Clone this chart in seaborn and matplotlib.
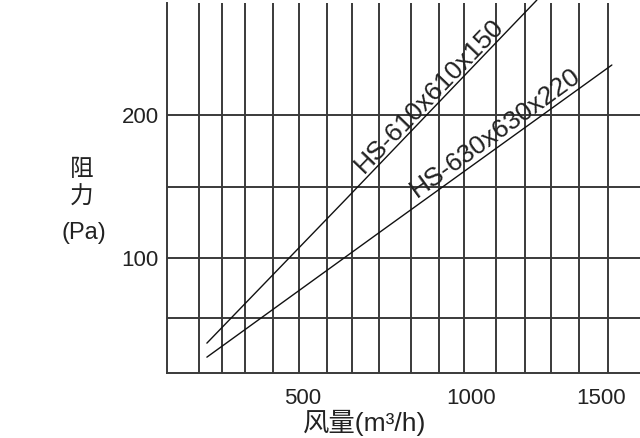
"""Resistance vs air flow for two HS filter sizes."""

import numpy as np
import pandas as pd
import matplotlib
matplotlib.use('Agg')
import matplotlib.pyplot as plt
import seaborn as sns

# air flow (m3/h) and resistance (Pa)
models = ['HS-610x610x150', 'HS-630x630x220']
flow_610 = [292, 609, 1240]
pa_610 = [40.6, 140.6, 280.4]
flow_630 = [292, 707, 1547]
pa_630 = [30.8, 118.2, 235.0]

x_ticks = [500, 1000, 1500]
y_ticks = [100, 200]
x_grid = [277, 321, 368, 429, 490, 561, 628, 704, 801, 890, 974, 1087, 1194, 1295, 1408, 1530]
y_grid = [58, 150]

sns.set_style('white')
plt.rcParams['font.family'] = ['Liberation Sans', 'Noto Sans CJK SC']

df = pd.DataFrame({
    'flow': flow_610 + flow_630,
    'pa': pa_610 + pa_630,
    'model': [models[0]] * len(flow_610) + [models[1]] * len(flow_630),
})

grid_col = '#3a3a3a'
fig = plt.figure(figsize=(6.4, 4.38), dpi=100)
ax = fig.add_axes([0.261, 0.148, 0.739, 0.845])
ax.set_xscale('function', functions=(lambda v: np.sqrt(np.clip(v, 0, None)), np.square))

sns.lineplot(data=df, x='flow', y='pa', hue='model', palette=['#111111', '#111111'],
             legend=False, lw=1, ax=ax, clip_on=False, zorder=3)

ax.set_xlim(222, 1671)
ax.set_ylim(19.6, 278.3)
ax.set_xticks(x_ticks)
ax.set_xticks(x_grid, minor=True)
ax.set_yticks(y_ticks)
ax.set_yticks(y_grid, minor=True)
ax.grid(False)
ax.grid(axis='x', which='minor', color=grid_col, lw=1.4)
ax.grid(axis='y', which='both', color=grid_col, lw=1.4)
ax.tick_params(which='both', length=0, labelsize=16, labelcolor='#222222')
ax.tick_params(axis='x', pad=11)
ax.tick_params(axis='y', pad=6)
ax.set_xlabel('')
ax.set_ylabel('')
for side in ['top', 'right']:
    ax.spines[side].set_visible(False)
for side in ['left', 'bottom']:
    ax.spines[side].set_color(grid_col)
    ax.spines[side].set_linewidth(1.4)

# model names along each line
fig.canvas.draw()
def label_line(flow, pa, text, at, off):
    p = ax.transData.transform(np.column_stack([flow, pa]))
    ang = np.degrees(np.arctan2(p[-1, 1] - p[0, 1], p[-1, 0] - p[0, 0]))
    y_at = np.interp(np.sqrt(at), np.sqrt(flow), pa)
    r = np.radians(ang)
    ax.annotate(text, xy=(at, y_at), xytext=(-off * np.sin(r), off * np.cos(r)),
                textcoords='offset points', rotation=ang, rotation_mode='anchor',
                ha='left', va='baseline', fontsize=19, color='#222222')

label_line(flow_610, pa_610, models[0], 670, 3)
label_line(flow_630, pa_630, models[1], 830, 4)

fig.text(0.128, 0.612, '阻', ha='center', va='center', fontsize=17, color='#222222')
fig.text(0.128, 0.548, '力', ha='center', va='center', fontsize=17, color='#222222')
fig.text(0.131, 0.468, '(Pa)', ha='center', va='center', fontsize=17, color='#222222')
fig.text(0.570, 0.034, '风量(m³/h)', ha='center', va='center', fontsize=19, color='#222222')

fig.savefig('out.png', dpi=100)
